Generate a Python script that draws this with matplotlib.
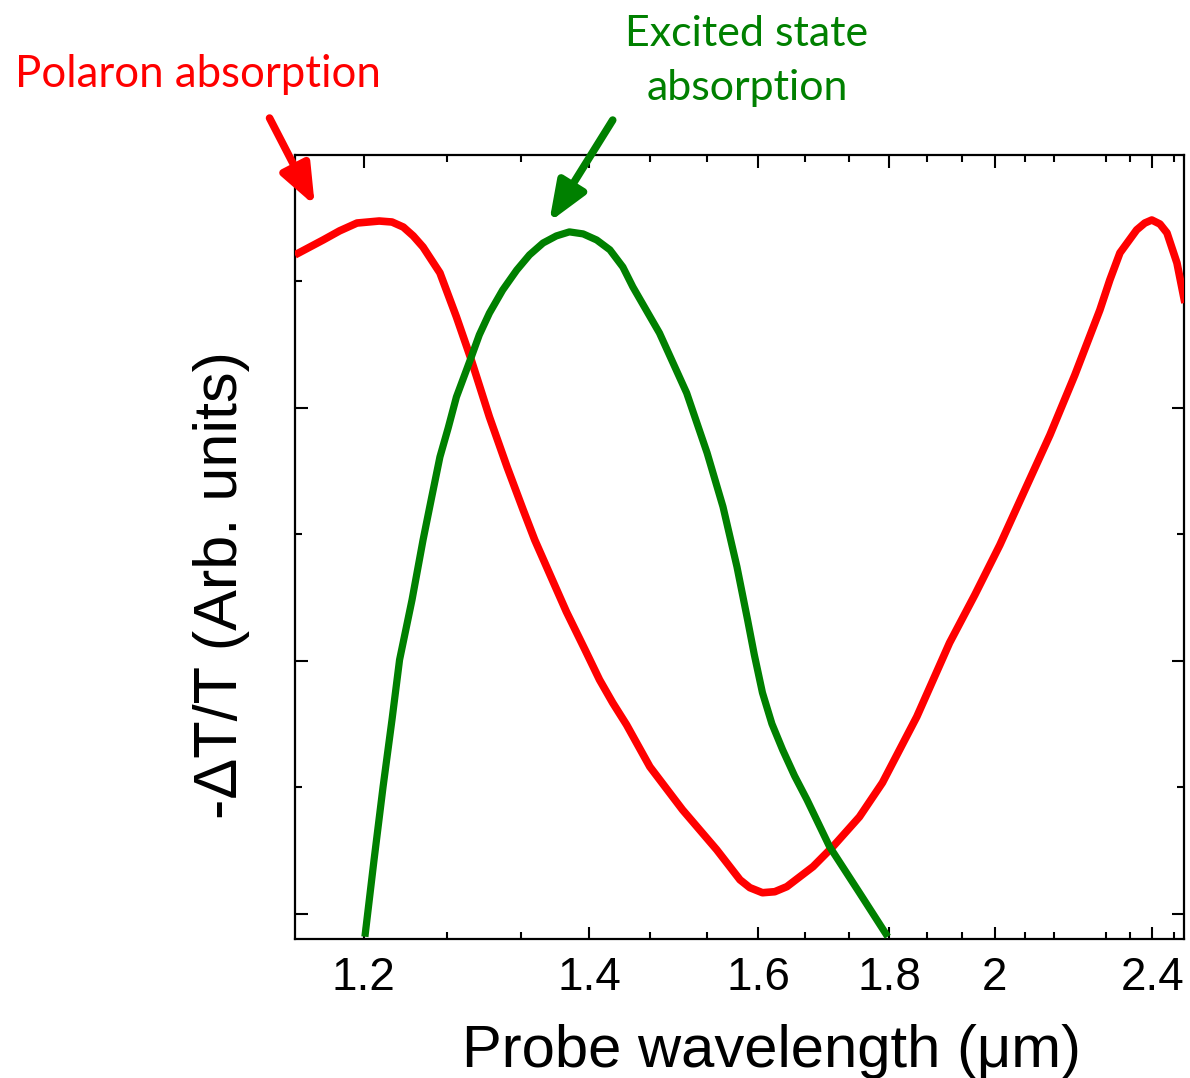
import matplotlib
matplotlib.use("Agg")
import matplotlib.pyplot as plt
from matplotlib.ticker import FixedLocator, NullFormatter

# ── data (wavelength in um, signal in arb. units) ─────────────────────────────

polaron_wl = [1.150, 1.170, 1.182, 1.195, 1.212, 1.222, 1.231, 1.239, 1.247,
              1.261, 1.275, 1.287, 1.304, 1.320, 1.335, 1.346, 1.360, 1.377,
              1.396, 1.411, 1.425, 1.440, 1.466, 1.504, 1.546, 1.576, 1.589,
              1.606, 1.623, 1.640, 1.678, 1.708, 1.750, 1.788, 1.848, 1.909,
              1.959, 2.011, 2.066, 2.124, 2.185, 2.250, 2.277, 2.305, 2.353,
              2.377, 2.398, 2.423, 2.445, 2.477, 2.503]
polaron_sig = [2.605, 2.664, 2.700, 2.731, 2.739, 2.735, 2.715, 2.680, 2.636,
               2.534, 2.360, 2.202, 1.964, 1.767, 1.597, 1.478, 1.348, 1.194,
               1.043, 0.925, 0.834, 0.747, 0.581, 0.411, 0.253, 0.134, 0.103,
               0.083, 0.087, 0.107, 0.186, 0.265, 0.383, 0.518, 0.779, 1.071,
               1.261, 1.458, 1.676, 1.893, 2.130, 2.387, 2.506, 2.613, 2.704,
               2.731, 2.743, 2.727, 2.692, 2.573, 2.415]

esa_wl = [1.201, 1.208, 1.215, 1.222, 1.228, 1.238, 1.247, 1.254, 1.261,
          1.268, 1.275, 1.287, 1.295, 1.304, 1.316, 1.329, 1.341, 1.354,
          1.367, 1.380, 1.394, 1.408, 1.422, 1.436, 1.447, 1.477, 1.509,
          1.534, 1.554, 1.572, 1.586, 1.595, 1.606, 1.619, 1.634, 1.651,
          1.669, 1.703, 1.750, 1.797]
esa_sig = [-0.091, 0.213, 0.502, 0.767, 1.004, 1.241, 1.478, 1.644, 1.806,
           1.921, 2.043, 2.190, 2.289, 2.375, 2.466, 2.545, 2.605, 2.652,
           2.680, 2.696, 2.688, 2.664, 2.625, 2.557, 2.478, 2.296, 2.059,
           1.822, 1.609, 1.372, 1.162, 1.024, 0.874, 0.751, 0.648, 0.545,
           0.451, 0.265, 0.083, -0.091]

major_ticks = [1.2, 1.4, 1.6, 1.8, 2.0, 2.4]
major_labels = ["1.2", "1.4", "1.6", "1.8", "2", "2.4"]
minor_ticks = [1.2667, 1.3333, 1.4667, 1.5333, 1.6667, 1.7333, 1.8667,
               1.9333, 2.0667, 2.1333, 2.2667, 2.3333, 2.4667]

RED = "#ff0000"
GREEN = "#008000"
LABEL_FONT = ["Liberation Sans", "DejaVu Sans"]
NOTE_FONT = ["Lato", "DejaVu Sans"]

W, H = 1190, 1078
fig = plt.figure(figsize=(W / 100, H / 100), dpi=100)
ax = fig.add_axes([295 / W, 1 - 939 / H, (1184 - 295) / W, (939 - 155) / H])

# x axis is linear in photon energy (1/lambda), labelled in wavelength
ax.set_xscale("function", functions=(lambda x: -1.0 / x, lambda y: -1.0 / y))
ax.set_xlim(1.15, 2.50)
ax.set_ylim(-0.1, 3.0)

ax.plot(polaron_wl, polaron_sig, color=RED, lw=5.5, solid_joinstyle="round",
        solid_capstyle="butt", zorder=3)
ax.plot(esa_wl, esa_sig, color=GREEN, lw=5.2, solid_joinstyle="round",
        solid_capstyle="butt", zorder=3)

ax.xaxis.set_major_locator(FixedLocator(major_ticks))
ax.xaxis.set_minor_locator(FixedLocator(minor_ticks))
ax.set_xticklabels(major_labels, fontsize=33, family=LABEL_FONT)
ax.xaxis.set_minor_formatter(NullFormatter())
ax.yaxis.set_major_locator(FixedLocator([0, 1, 2]))
ax.yaxis.set_minor_locator(FixedLocator([0.5, 1.5, 2.5]))
ax.set_yticklabels([])

ax.tick_params(which="both", direction="in", top=True, right=True, width=1.5)
ax.tick_params(which="major", length=9, pad=12)
ax.tick_params(which="minor", length=5)
for s in ax.spines.values():
    s.set_linewidth(1.6)

# ── labels ────────────────────────────────────────────────────────────────────

fig.text(772 / W, 1 - 1067 / H, "Probe wavelength (\u03bcm)", ha="center",
         va="baseline", fontsize=43, family=LABEL_FONT)
fig.text(222 / W, 1 - 585 / H, "-\u0394T/T (Arb. units)", rotation=90,
         ha="center", va="center", fontsize=44, family=LABEL_FONT)

# ── annotations ───────────────────────────────────────────────────────────────

fig.text(15 / W, 1 - 87 / H, "Polaron absorption", color=RED, ha="left",
         va="baseline", fontsize=31.5, family=NOTE_FONT)
fig.text(747 / W, 1 - 100 / H, "Excited state\nabsorption", color=GREEN,
         ha="center", va="baseline", multialignment="center", fontsize=31,
         linespacing=1.5, family=NOTE_FONT)

arrow_style = "-|>,head_length=2.4,head_width=0.95"
ax.annotate("", xy=(1.164, 2.80), xytext=(1.1325, 3.146),
            annotation_clip=False,
            arrowprops=dict(arrowstyle=arrow_style, color=RED, lw=5.5,
                            shrinkA=0, shrinkB=0))
ax.annotate("", xy=(1.360, 2.735), xytext=(1.425, 3.138),
            annotation_clip=False,
            arrowprops=dict(arrowstyle=arrow_style, color=GREEN, lw=5.5,
                            shrinkA=0, shrinkB=0))

fig.savefig("out.png", dpi=100)
